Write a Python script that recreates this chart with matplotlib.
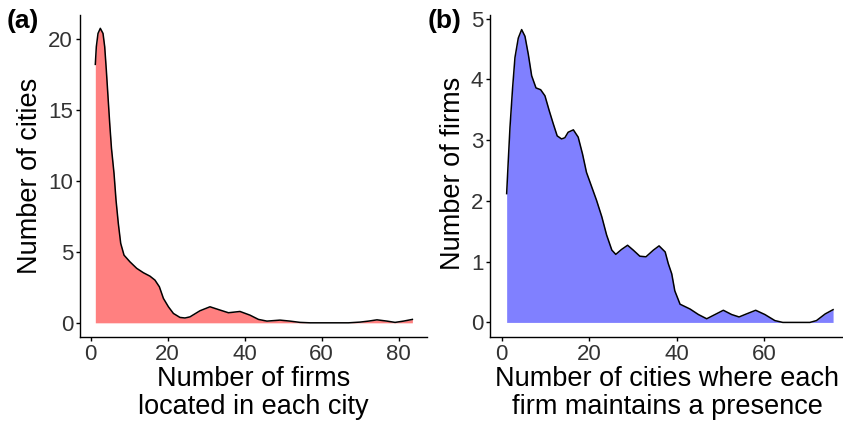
import numpy as np
import matplotlib.pyplot as plt

plt.rcParams['font.family'] = ['Liberation Sans', 'DejaVu Sans']

# (a) density of firms per city
a_x = [1.2, 1.46, 1.9, 2.5, 3.2, 3.64, 4.06, 4.5, 4.94, 5.4, 6.06, 6.58, 7.18,
       7.8, 8.66, 10.2, 11.96, 13.7, 15.4, 16.7, 17.85, 18.9, 20.2, 21.5, 23.2,
       24.5, 25.8, 28.4, 31.0, 33.6, 35.8, 38.8, 41.4, 43.6, 45.8, 49.2, 51.8,
       54.4, 57.0, 62.0, 67.0, 70.0, 72.2, 74.4, 77.0, 79.1, 81.3, 83.6]
a_y = [18.22, 19.46, 20.4, 20.76, 20.4, 19.46, 17.82, 15.94, 14.06, 12.3, 10.54,
       8.65, 7.0, 5.6, 4.77, 4.3, 3.84, 3.53, 3.29, 3.01, 2.54, 1.72, 1.13, 0.66,
       0.38, 0.34, 0.42, 0.85, 1.13, 0.9, 0.71, 0.8, 0.54, 0.24, 0.12, 0.19,
       0.12, 0.03, 0.0, 0.0, 0.0, 0.05, 0.12, 0.21, 0.12, 0.03, 0.12, 0.24]

# (b) density of cities per firm
b_x = [1.14, 1.51, 1.9, 2.5, 3.04, 3.8, 4.57, 5.33, 6.1, 6.86, 7.85, 8.92, 9.9,
       10.9, 11.8, 12.7, 13.7, 14.45, 15.2, 16.4, 17.5, 18.5, 19.4, 20.6, 21.7,
       22.9, 24.0, 25.2, 26.1, 27.4, 28.8, 30.1, 31.6, 33.0, 34.7, 36.0, 37.4,
       38.1, 38.9, 39.6, 40.8, 43.1, 45.0, 46.9, 48.8, 50.7, 52.6, 54.3, 56.0,
       58.1, 60.2, 62.5, 64.3, 67.0, 70.5, 72.0, 74.0, 75.8]
b_y = [2.12, 2.66, 3.21, 3.86, 4.36, 4.68, 4.82, 4.71, 4.41, 4.06, 3.86, 3.83,
       3.73, 3.48, 3.27, 3.07, 3.02, 3.04, 3.13, 3.17, 3.05, 2.77, 2.47, 2.23,
       2.01, 1.74, 1.44, 1.19, 1.12, 1.2, 1.27, 1.19, 1.09, 1.08, 1.19, 1.26,
       1.16, 0.97, 0.8, 0.52, 0.3, 0.22, 0.13, 0.06, 0.13, 0.2, 0.13, 0.09,
       0.14, 0.2, 0.13, 0.03, 0.0, 0.0, 0.0, 0.03, 0.14, 0.21]

fig = plt.figure(figsize=(8.43, 4.24), dpi=100)


def style(ax):
    for s in ['top', 'right']:
        ax.spines[s].set_visible(False)
    for s in ['left', 'bottom']:
        ax.spines[s].set_linewidth(1.0)
    ax.tick_params(length=3, width=1.0, pad=2, labelsize=16,
                   colors='black', labelcolor='#333333')


ax1 = fig.add_axes([80 / 843, 87 / 424, 347 / 843, 322 / 424])
ax1.fill_between(a_x, a_y, 0, color='#ff8080', linewidth=0)
ax1.plot(a_x, a_y, color='black', lw=1.1, solid_joinstyle='round')
ax1.set_xlim(-2.78, 87.4)
ax1.set_ylim(-1.0, 21.7)
ax1.set_xticks([0, 20, 40, 60, 80])
ax1.set_yticks([0, 5, 10, 15, 20])
style(ax1)

ax2 = fig.add_axes([490.3 / 843, 87 / 424, 360.7 / 843, 322 / 424])
ax2.fill_between(b_x, b_y, 0, color='#8080ff', linewidth=0)
ax2.plot(b_x, b_y, color='black', lw=1.1, solid_joinstyle='round')
ax2.set_xlim(-2.6, 79.9)
ax2.set_ylim(-0.24, 5.06)
ax2.set_xticks([0, 20, 40, 60])
ax2.set_yticks([0, 1, 2, 3, 4, 5])
style(ax2)

fig.text(30 / 843, 1 - 176 / 424, 'Number of cities', rotation=90,
         ha='center', va='center', fontsize=19.5)
fig.text(453 / 843, 1 - 173 / 424, 'Number of firms', rotation=90,
         ha='center', va='center', fontsize=19.5)
fig.text(253.5 / 843, 1 - 393 / 424, 'Number of firms\nlocated in each city',
         ha='center', va='center', fontsize=19.5, linespacing=1.05)
fig.text(667 / 843, 1 - 393 / 424, 'Number of cities where each\nfirm maintains a presence',
         ha='center', va='center', fontsize=19.5, linespacing=1.05)
fig.text(23 / 843, 1 - 21 / 424, '(a)', ha='center', va='center',
         fontsize=19, fontweight='bold')
fig.text(445 / 843, 1 - 21 / 424, '(b)', ha='center', va='center',
         fontsize=19, fontweight='bold')

fig.savefig('out.png', dpi=100)
